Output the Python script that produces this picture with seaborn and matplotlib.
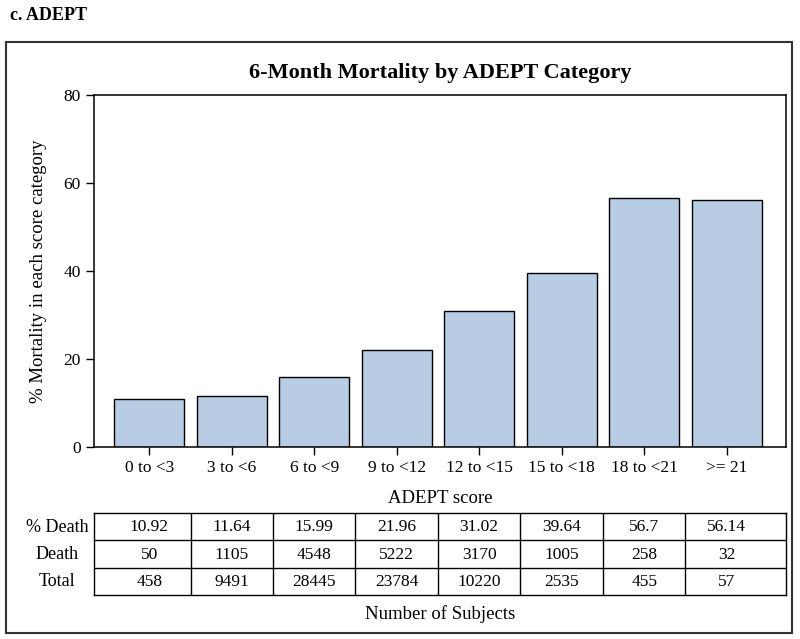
import matplotlib
matplotlib.use("Agg")
import matplotlib.pyplot as plt
import matplotlib.transforms as mtransforms
from matplotlib.patches import Rectangle
import seaborn as sns

# data
categories = ["0 to <3", "3 to <6", "6 to <9", "9 to <12", "12 to <15",
              "15 to <18", "18 to <21", ">= 21"]
pct_death = [10.92, 11.64, 15.99, 21.96, 31.02, 39.64, 56.7, 56.14]
pct_death_labels = ["10.92", "11.64", "15.99", "21.96", "31.02", "39.64", "56.7", "56.14"]
deaths = [50, 1105, 4548, 5222, 3170, 1005, 258, 32]
totals = [458, 9491, 28445, 23784, 10220, 2535, 455, 57]
row_names = ["% Death", "Death", "Total"]
y_ticks = [0, 20, 40, 60, 80]

sns.set_style("ticks")
plt.rcParams['font.family'] = ['Liberation Serif', 'DejaVu Serif']
plt.rcParams['text.color'] = 'black'
plt.rcParams['axes.labelcolor'] = 'black'
plt.rcParams['xtick.color'] = 'black'
plt.rcParams['ytick.color'] = 'black'

W, H = 800, 639
fig = plt.figure(figsize=(W / 100, H / 100), dpi=100)

def px_axes(left, top, right, bottom):
    return fig.add_axes([left / W, 1 - bottom / H, (right - left) / W, (bottom - top) / H])

xlim = (-0.67, 7.72)

# main bar chart
ax = px_axes(94, 95, 786, 447)
sns.barplot(x=categories, y=pct_death, color="#b8cce4", edgecolor="black",
            linewidth=1.0, width=0.85, saturation=1, ax=ax)
ax.set_xlim(*xlim)
ax.set_ylim(0, 80)
ax.set_yticks(y_ticks)
for s in ax.spines.values():
    s.set_visible(True)
    s.set_linewidth(1.1)
    s.set_color("black")
ax.tick_params(axis="both", direction="out", length=6, width=1.0, labelsize=12.5)
ax.set_ylabel("% Mortality in each score category", fontsize=13.5, labelpad=12)
ax.set_xlabel("ADEPT score", fontsize=13.5, labelpad=10)
ax.set_title("6-Month Mortality by ADEPT Category", fontsize=16,
             fontweight="bold", pad=12)

# table under the chart
tab = px_axes(94, 513, 786, 595)
tab.set_xlim(*xlim)
tab.set_ylim(3, 0)
tab.set_xticks([])
tab.set_yticks([])
for s in tab.spines.values():
    s.set_visible(True)
    s.set_linewidth(1.0)
    s.set_color("black")
for k in range(len(categories) - 1):
    tab.axvline(k + 0.5, color="black", lw=1.0)
for r in (1, 2):
    tab.axhline(r, color="black", lw=1.0)

rows = [pct_death_labels, [str(v) for v in deaths], [str(v) for v in totals]]
for r, vals in enumerate(rows):
    for i, v in enumerate(vals):
        tab.text(i, r + 0.52, v, ha="center", va="center", fontsize=12.5)

trans = mtransforms.blended_transform_factory(tab.transAxes, tab.transData)
for r, name in enumerate(row_names):
    tab.text(-0.053, r + 0.52, name, transform=trans, ha="center", va="center",
             fontsize=13)
tab.text(0.5, -0.12, "Number of Subjects", transform=tab.transAxes,
         ha="center", va="top", fontsize=13.5)

# panel label and outer frame
fig.text(10 / W, 1 - 15 / H, "c. ADEPT", ha="left", va="center",
         fontsize=13, fontweight="bold")
fig.patches.append(Rectangle((6 / W, 1 - 633 / H), (792 - 6) / W, (633 - 42) / H,
                             transform=fig.transFigure, fill=False,
                             edgecolor="#333333", linewidth=1.5))

fig.savefig("out.png", dpi=100)
